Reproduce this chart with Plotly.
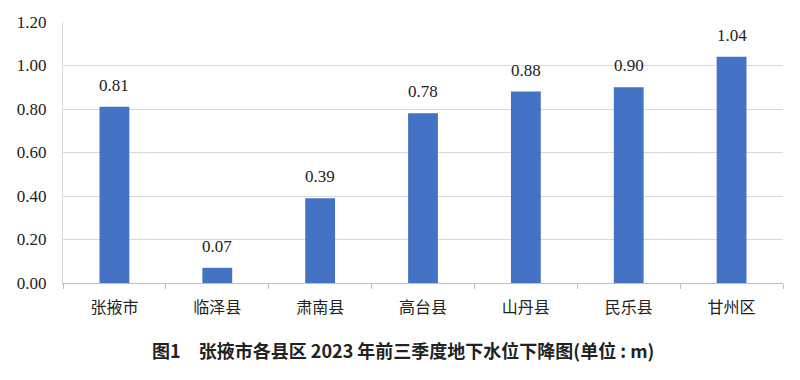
import plotly.graph_objects as go

categories = ["张掖市", "临泽县", "肃南县", "高台县", "山丹县", "民乐县", "甘州区"]
values = [0.81, 0.07, 0.39, 0.78, 0.88, 0.90, 1.04]
tick_vals = [0, 0.2, 0.4, 0.6, 0.8, 1.0, 1.2]
tick_text = ["0.00", "0.20", "0.40", "0.60", "0.80", "1.00", "1.20"]
title_text = "图1\u2002\u2002张掖市各县区 2023 年前三季度地下水位下降图(单位 : m)"

serif = "Liberation Serif"

fig = go.Figure()
fig.add_trace(go.Bar(
    x=categories, y=values,
    marker=dict(color="#4472C4", line=dict(width=0)),
    width=0.29,
))

for c, v in zip(categories, values):
    fig.add_annotation(x=c, y=v, text=f"{v:.2f}", showarrow=False,
                       yanchor="bottom", yshift=10,
                       font=dict(family=serif, size=17, color="#222"))

fig.update_layout(
    width=800, height=380,
    margin=dict(l=63, r=17, t=22, b=97),
    plot_bgcolor="white", paper_bgcolor="white",
    showlegend=False,
    title=dict(text=f"<b>{title_text}</b>", xref="container", yref="container",
               x=0.504, xanchor="center", y=0.074, yanchor="middle",
               font=dict(family="Noto Sans CJK SC, sans-serif", size=18, color="#222")),
)
fig.update_xaxes(
    type="category",
    showline=True, linecolor="#bfbfbf", linewidth=1,
    ticks="outside", tickson="boundaries", ticklen=5, tickcolor="#bfbfbf",
    tickfont=dict(family="Noto Sans CJK SC, serif", size=16, color="#222"),
    ticklabelstandoff=10,
    showgrid=False,
)
fig.update_yaxes(
    range=[0, 1.2], tickvals=tick_vals, ticktext=tick_text,
    showgrid=True, gridcolor="#d9d9d9", gridwidth=1,
    showline=True, linecolor="#d9d9d9", linewidth=1,
    zeroline=False,
    tickfont=dict(family=serif, size=17, color="#222"),
    ticks="", ticklabelstandoff=12,
)

fig.write_html("out.html",
               config={"displayModeBar": False},
               post_script="document.body.style.margin='0';document.body.style.overflow='hidden';")
